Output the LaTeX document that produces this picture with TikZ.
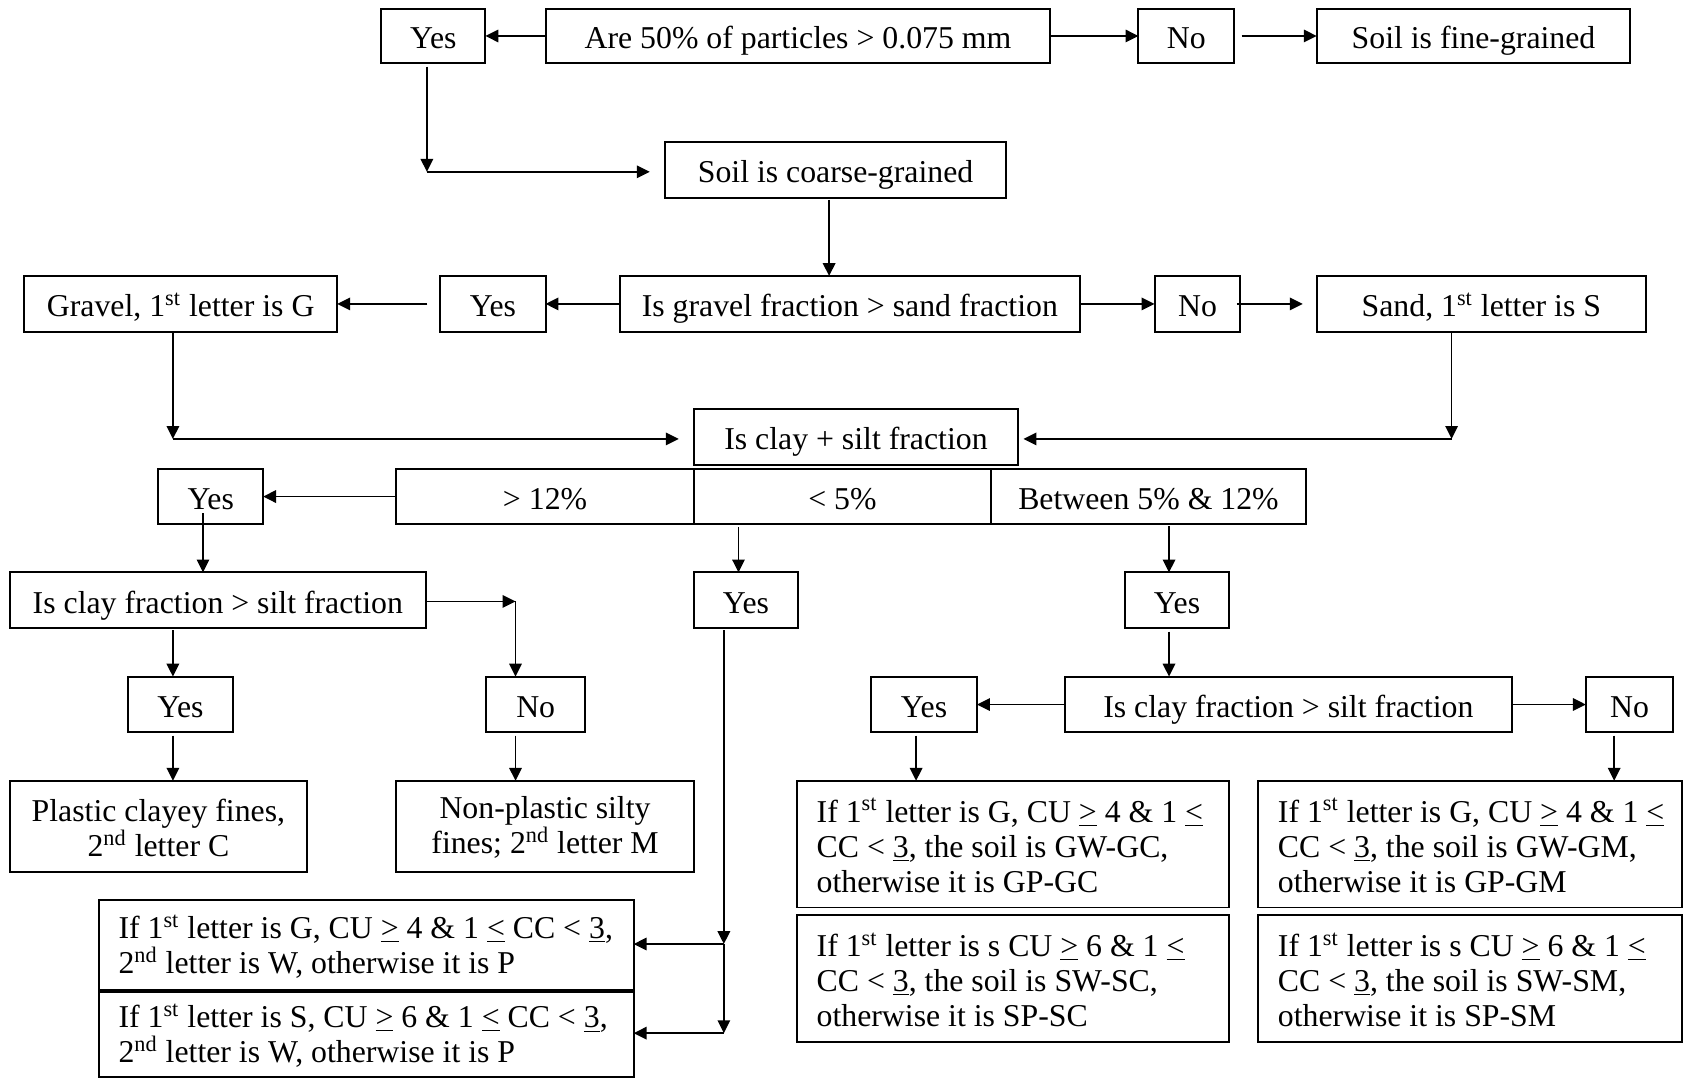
\documentclass[tikz,border=0pt]{standalone}
\usepackage{fontspec}
\setmainfont{Liberation Serif}
\usetikzlibrary{arrows.meta}
\newcommand\fs{\fontsize{14.8pt}{16.3pt}\selectfont}
\newcommand\uge{\underline{>}}
\newcommand\ule{\underline{<}}
\newcommand\uthree{\underline{3}}
\newcommand\st{\textsuperscript{st}}
\newcommand\nd{\textsuperscript{nd}}
% \bx[text opts]{name}{x1}{y1}{x2}{y2}{text}
\newcommand\bx[7][stxt]{%
  \node[box,minimum width={(#5-#3)*0.5pt},minimum height={(#6-#4)*0.5pt}] (#2) at ({(#3+#5)/2},{(#4+#6)/2}) {};
  \node[#1] (#2t) at (#2.center) {#7};}
% \bxl{name}{x1}{y1}{x2}{y2}{pad}{text}  left-aligned multi-line
\newcommand\bxl[7]{%
  \node[box,minimum width={(#4-#2)*0.5pt},minimum height={(#5-#3)*0.5pt}] (#1) at ({(#2+#4)/2},{(#3+#5)/2}) {};
  \node[mtxt,align=left,anchor=west] (#1t) at ([xshift={#6*0.5pt}]#1.west) {#7};}
\begin{document}
\begin{tikzpicture}[x=0.5pt,y=-0.5pt,
  box/.style={draw,line width=0.9pt,inner sep=0pt,outer sep=0pt},
  stxt/.style={font=\fs,inner sep=0pt,text height=12.6pt,text depth=0.8pt},
  mtxt/.style={font=\fs,inner sep=0pt,yshift=-0.6pt},
  ctxt/.style={mtxt,align=center},
  arr/.style={line width=0.8pt,-{Triangle[length=6pt,width=5.8pt]}}]
\fill[white] (0,0) rectangle (1568,1005);
\useasboundingbox (0,0) rectangle (1568,1005);
% row 1
\bx{y1}{355}{8}{452}{59}{Yes}
\bx{q1}{508}{8}{978}{59}{Are 50\% of particles > 0.075 mm}
\bx{n1}{1060}{8}{1149}{59}{No}
\bx{fine}{1226}{8}{1518}{59}{Soil is fine-grained}
% row 2
\bx{coarse}{619}{132}{937}{184}{Soil is coarse-grained}
% row 3
\bx{grav}{22.5}{257}{314}{309}{Gravel, 1\st{} letter is G}
\bx{y3}{410}{257}{508}{309}{Yes}
\bx{q2}{577}{257}{1005.6}{309}{Is gravel fraction > sand fraction}
\bx{n3}{1075}{257}{1155}{309}{No}
\bx{sand}{1226}{257}{1532.6}{309}{Sand, 1\st{} letter is S}
% row 4
\bx{q3}{646}{381}{948}{433}{Is clay + silt fraction}
% row 5
\bx{c1}{369}{436.7}{646}{488}{> 12\%}
\bx{c2}{646}{436.7}{922.7}{488}{< 5\%}
\bx{c3}{922.7}{436.7}{1216}{488}{Between 5\% \& 12\%}
\bx{y5}{147.5}{436.7}{245}{488}{Yes}
% row 6
\bx{q4}{9}{533}{396.6}{585}{Is clay fraction > silt fraction}
\bx{y6a}{646}{533}{743}{585}{Yes}
\bx{y6b}{1047.6}{533}{1144.3}{585}{Yes}
% row 7
\bx{y7a}{119}{630}{217}{682}{Yes}
\bx{n7a}{452.6}{630}{545}{682}{No}
\bx{y7b}{811}{630}{909.7}{682}{Yes}
\bx{q5}{991.6}{630}{1407.6}{682}{Is clay fraction > silt fraction}
\bx{n7b}{1476.6}{630}{1558}{682}{No}
% row 8
\bx[ctxt]{plastic}{9}{727}{286}{812}{Plastic clayey fines,\\2\nd{} letter C}
\bx[ctxt]{nonplastic}{369}{727}{646}{812}{Non-plastic silty\\fines; 2\nd{} letter M}
\bxl{GC}{742}{727}{1144}{845}{18}{If 1\st{} letter is G, CU \uge{} 4 \& 1 \ule\\CC < \uthree, the soil is GW-GC,\\otherwise it is GP-GC}
\bxl{GM}{1171.5}{727}{1566}{845}{18}{If 1\st{} letter is G, CU \uge{} 4 \& 1 \ule\\CC < \uthree, the soil is GW-GM,\\otherwise it is GP-GM}
\bxl{SC}{742}{852}{1144}{970}{18}{If 1\st{} letter is s CU \uge{} 6 \& 1 \ule\\CC < \uthree, the soil is SW-SC,\\otherwise it is SP-SC}
\bxl{SM}{1171.5}{852}{1566}{970}{18}{If 1\st{} letter is s CU \uge{} 6 \& 1 \ule\\CC < \uthree, the soil is SW-SM,\\otherwise it is SP-SM}
\bxl{gcond}{92.5}{838}{590}{922}{17.5}{If 1\st{} letter is G, CU \uge{} 4 \& 1 \ule{} CC < \uthree,\\2\nd{} letter is W, otherwise it is P}
\bxl{scond}{92.5}{923.6}{590}{1003}{17.5}{If 1\st{} letter is S, CU \uge{} 6 \& 1 \ule{} CC < \uthree,\\2\nd{} letter is W, otherwise it is P}
% connectors
\draw[arr] (q1.west) -- (y1.east);
\draw[arr] (q1.east) -- (n1.west);
\draw[arr,shorten <=3.5pt] (n1.east) -- (fine.west);
\coordinate (k1) at (397.5,160);
\draw[arr,shorten <=1.5pt] (y1.south -| k1) -- (k1);
\draw[arr,shorten >=7pt] (k1) -- (k1 -| coarse.west);
\coordinate (k2) at (772,200);
\draw[arr,shorten <=1pt] (coarse.south -| k2) -- (q2.north -| k2);
\draw[arr] (q2.west) -- (y3.east);
\draw[arr,shorten <=6pt] (y3.west) -- (grav.east);
\draw[arr] (q2.east) -- (n3.west);
\draw[arr,shorten <=-1.7pt,shorten >=6.5pt] (n3.east) -- (sand.west);
\coordinate (k3) at (161,408.7);
\draw[arr] (grav.south -| k3) -- (k3);
\draw[arr,shorten >=7pt] (k3) -- (k3 -| q3.west);
\coordinate (k4) at (1351.6,408.7);
\draw[arr] (sand.south -| k4) -- (k4);
\draw[arr,shorten >=2.5pt] (k4) -- (k4 -| q3.east);
\draw[arr] (c1.west) -- (y5.east);
\coordinate (k5) at (189,478);
\draw[arr] (k5) -- (k5 |- q4.north);
\coordinate (k6) at (480,560);
\draw[arr] (q4.east |- k6) -- (k6);
\draw[arr] (k6) -- (k6 |- n7a.north);
\coordinate (k7) at (161,600);
\draw[arr,shorten <=1pt] (q4.south -| k7) -- (y7a.north -| k7);
\draw[arr,shorten <=1.5pt] (y7a.south -| k7) -- (plastic.north -| k7);
\draw[arr,shorten <=1.5pt] (n7a.south -| k6) -- (nonplastic.north -| k6);
\coordinate (k8) at (687.6,500);
\draw[arr,shorten <=1.5pt] (c2.south -| k8) -- (y6a.north -| k8);
\coordinate (k9) at (674,879);
\coordinate (k10) at (674,962);
\draw[arr,shorten <=1pt] (y6a.south -| k9) -- (k9);
\draw[arr] (k9) -- (k9 -| gcond.east);
\draw[arr] (k9) -- (k10);
\draw[arr] (k10) -- (k10 -| scond.east);
\coordinate (k11) at (1088.5,500);
\draw[arr,shorten <=1pt] (c3.south -| k11) -- (y6b.north -| k11);
\draw[arr,shorten <=1.5pt] (y6b.south -| k11) -- (q5.north -| k11);
\draw[arr] (q5.west) -- (y7b.east);
\draw[arr] (q5.east) -- (n7b.west);
\coordinate (k12) at (853,700);
\draw[arr,shorten <=1.5pt] (y7b.south -| k12) -- (GC.north -| k12);
\coordinate (k13) at (1503,700);
\draw[arr,shorten <=1.5pt] (n7b.south -| k13) -- (GM.north -| k13);
\end{tikzpicture}
\end{document}
